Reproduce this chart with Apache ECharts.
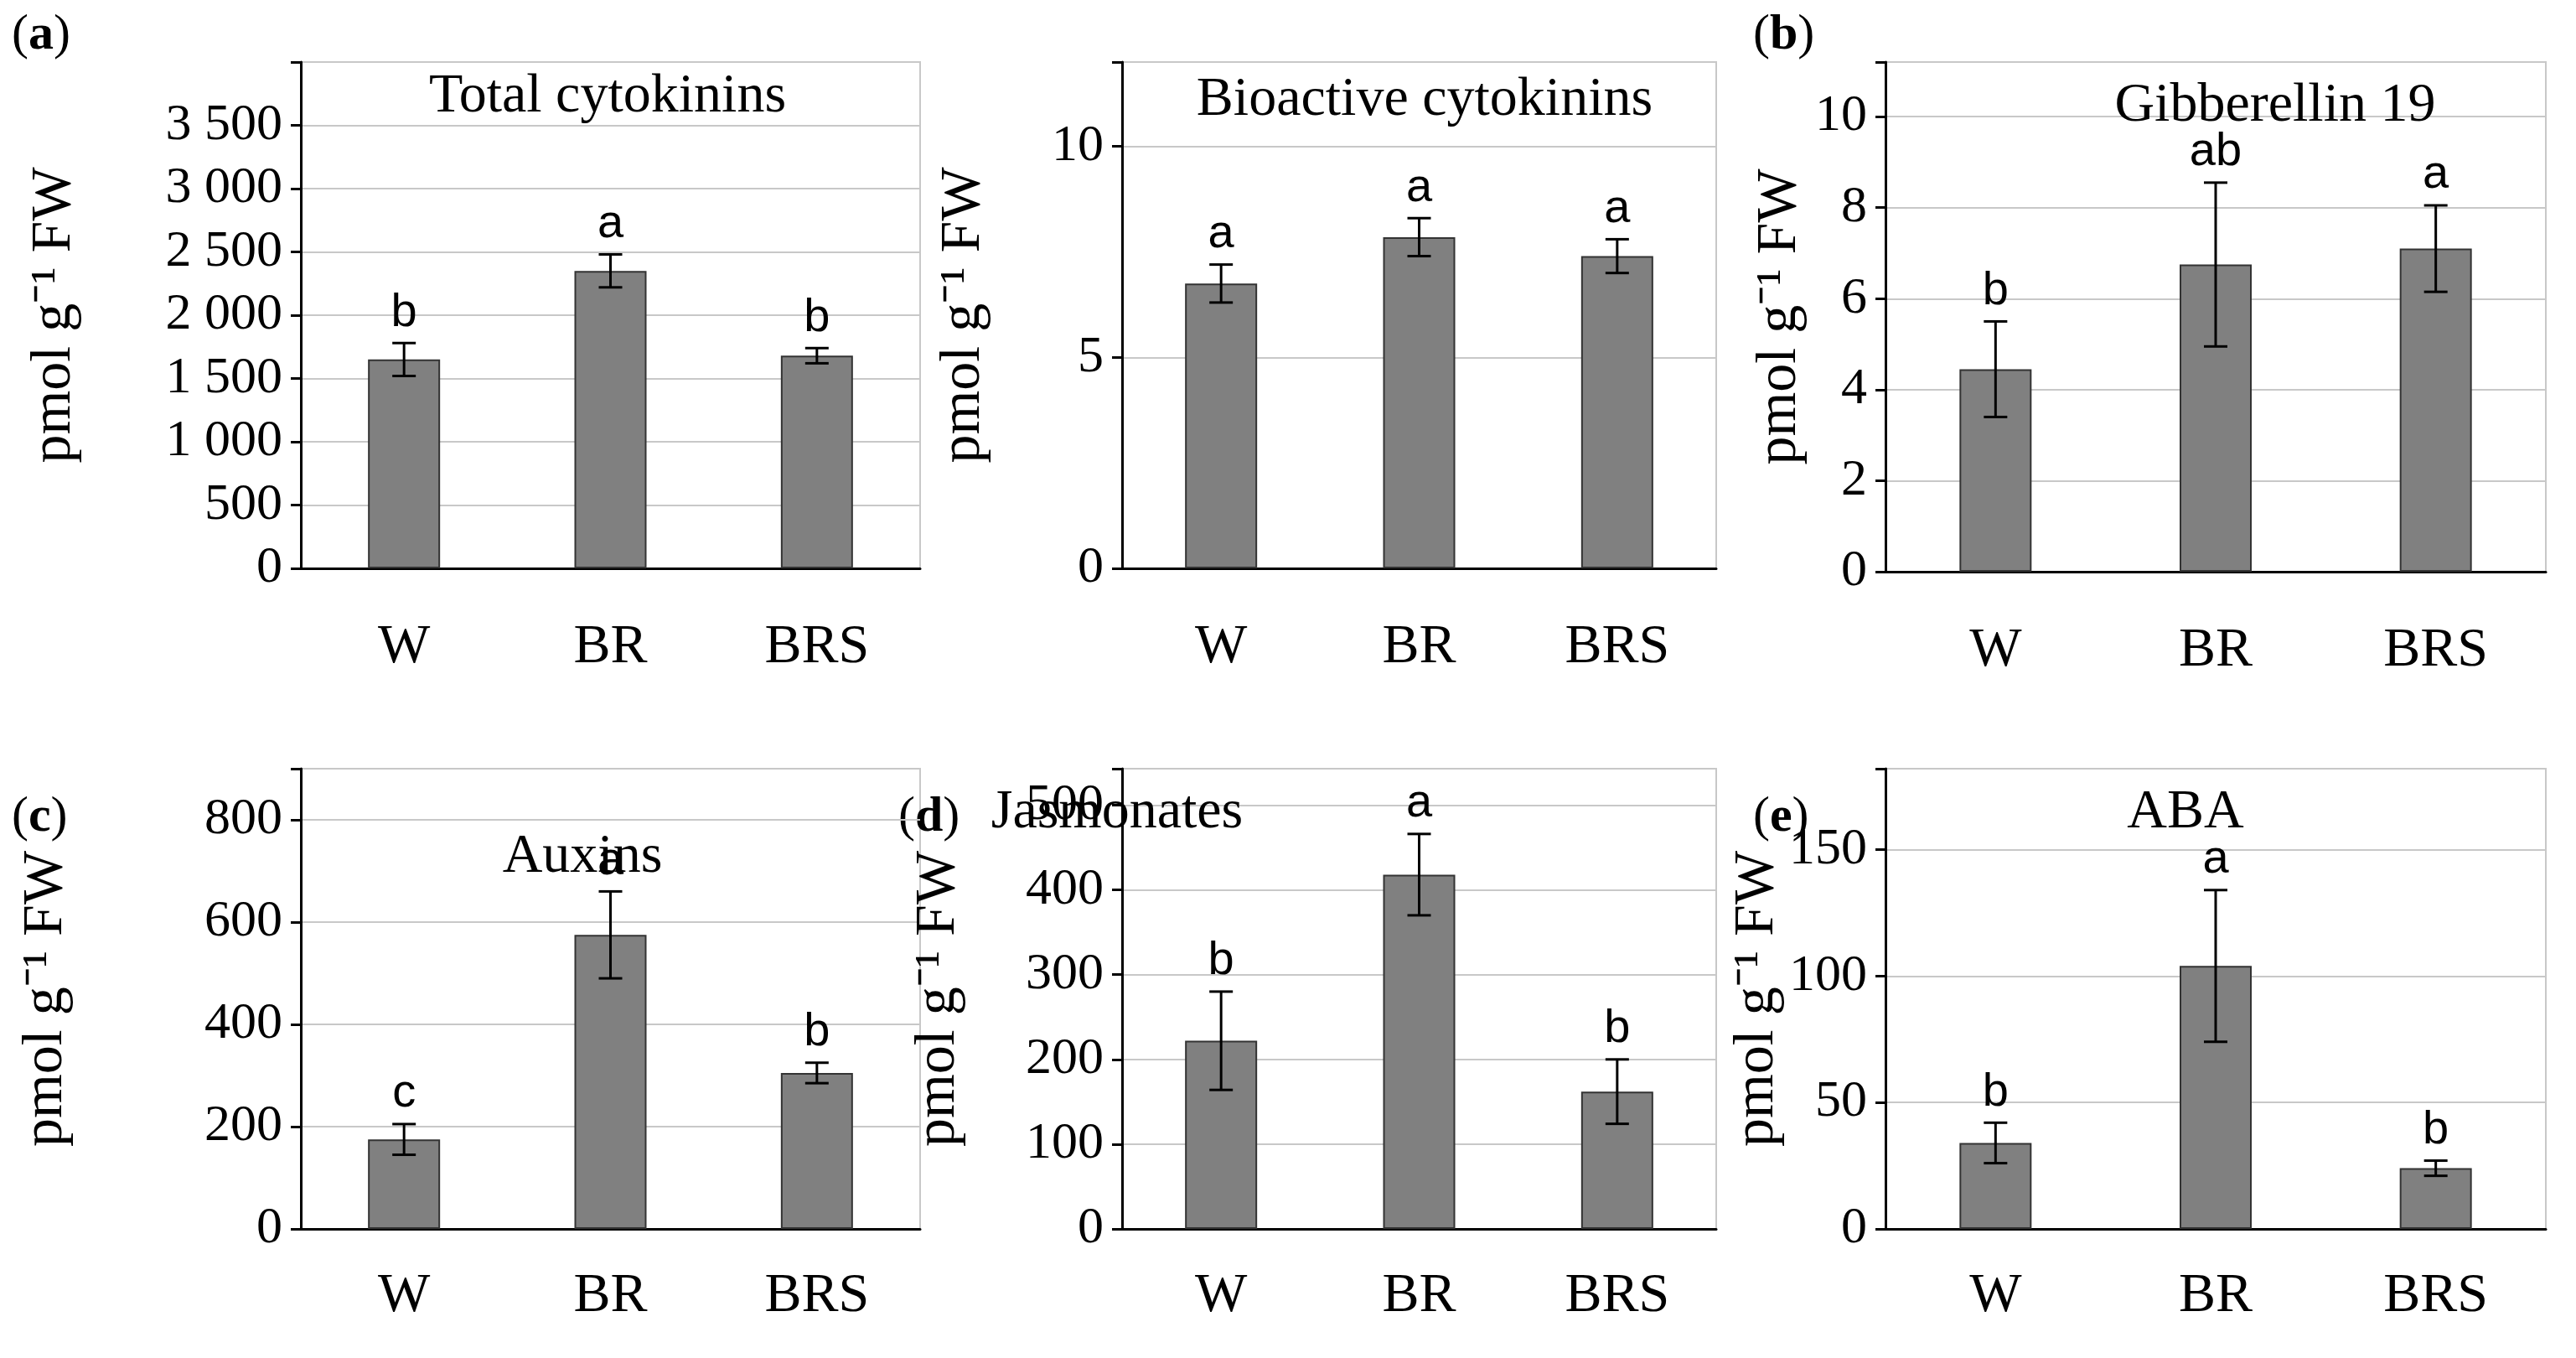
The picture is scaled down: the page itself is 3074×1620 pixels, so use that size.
<!DOCTYPE html>
<html lang="en">
<head>
<meta charset="UTF-8">
<title>Hormones</title>
<script src="https://cdn.jsdelivr.net/npm/echarts@6/dist/echarts.min.js"></script>
<style>html,body{margin:0;background:#fff}</style>
</head>
<body>
<div id="main" style="width:3074px;height:1620px;"></div>
<script>
const categories = ['W', 'BR', 'BRS']
const titles = ['Total cytokinins', 'Bioactive cytokinins', 'Gibberellin 19', 'Auxins', 'Jasmonates', 'ABA']
const means = [[1650, 2350, 1680], [6.75, 7.85, 7.4], [4.45, 6.75, 7.1], [175, 575, 305], [222, 418, 162], [34, 104, 24]]
const errors = [[130, 130, 60], [0.45, 0.45, 0.4], [1.05, 1.8, 0.95], [30, 85, 20], [58, 48, 38], [8, 30, 3]]
const letters = [['b', 'a', 'b'], ['a', 'a', 'a'], ['b', 'ab', 'a'], ['c', 'a', 'b'], ['b', 'a', 'b'], ['b', 'a', 'b']]
const yMax = [4000, 12, 11.2, 900, 543, 182]
const yStep = [500, 5, 2, 200, 100, 50]

// layout per panel (pixels)
const grids = [
  {left: 359, top: 74, width: 739, height: 604},
  {left: 1339, top: 74, width: 709, height: 604},
  {left: 2250, top: 74, width: 788, height: 608},
  {left: 359, top: 917, width: 739, height: 549},
  {left: 1339, top: 917, width: 709, height: 549},
  {left: 2250, top: 917, width: 788, height: 549}
]
const nameGaps = [260, 155, 92, 270, 185, 112]
const titlePos = [[725, 116], [1700, 120], [2715, 127], [695, 1023], [1333, 970], [2608, 970]]
const panelTags = [['a', 14, 42], ['b', 2092, 42], ['c', 14, 975], ['d', 1072, 975], ['e', 2092, 975]]

const serif = 'Liberation Serif'
const fmt = v => v >= 1000 ? Math.floor(v / 1000) + ' ' + String(v % 1000).padStart(3, '0') : String(v)

const option = {
  animation: false,
  grid: grids.map(g => Object.assign({show: true, borderColor: '#c8c8c8', borderWidth: 2}, g)),
  xAxis: grids.map((g, i) => ({
    gridIndex: i, type: 'category', data: categories,
    axisLine: {lineStyle: {color: '#000', width: 3}}, axisTick: {show: false},
    axisLabel: {color: '#000', fontFamily: serif, fontSize: 66, margin: i < 3 ? 62 : 48}
  })),
  yAxis: grids.map((g, i) => ({
    gridIndex: i, type: 'value', min: 0, max: yMax[i], interval: yStep[i],
    name: 'pmol g⁻¹ FW', nameLocation: 'middle', nameGap: nameGaps[i], nameRotate: 90,
    nameTextStyle: {color: '#000', fontFamily: serif, fontSize: 68},
    axisLine: {show: true, lineStyle: {color: '#000', width: 3}},
    axisTick: {show: true, length: 12, lineStyle: {color: '#000', width: 3}},
    axisLabel: {color: '#000', fontFamily: serif, fontSize: 62, margin: 22, formatter: v => v <= yMax[i] - 1e-9 && Math.abs(v / yStep[i] - Math.round(v / yStep[i])) < 1e-6 ? fmt(v) : ''},
    splitLine: {lineStyle: {color: '#c8c8c8', width: 2}}
  })),
  series: [],
  graphic: []
}

means.forEach((m, i) => {
  option.series.push({
    type: 'bar', xAxisIndex: i, yAxisIndex: i, data: m, barWidth: 86,
    itemStyle: {color: '#808080', borderColor: '#333', borderWidth: 2}
  })
  option.series.push({
    type: 'custom', xAxisIndex: i, yAxisIndex: i,
    data: m.map((v, j) => [j, v - errors[i][j], v + errors[i][j]]),
    renderItem: (params, api) => {
      const lo = api.coord([api.value(0), api.value(1)])
      const hi = api.coord([api.value(0), api.value(2)])
      const x = lo[0], w = 14
      const st = {stroke: '#000', lineWidth: 3}
      return {type: 'group', children: [
        {type: 'line', shape: {x1: x, y1: lo[1], x2: x, y2: hi[1]}, style: st},
        {type: 'line', shape: {x1: x - w, y1: lo[1], x2: x + w, y2: lo[1]}, style: st},
        {type: 'line', shape: {x1: x - w, y1: hi[1], x2: x + w, y2: hi[1]}, style: st},
        {type: 'text', x: x, y: hi[1] - 8, style: {text: letters[i][params.dataIndex], fill: '#000', font: '56px Liberation Sans', textAlign: 'center', textVerticalAlign: 'bottom'}}
      ]}
    },
    z: 5
  })
  option.graphic.push({type: 'text', x: titlePos[i][0], y: titlePos[i][1],
    style: {text: titles[i], fill: '#000', font: '66px Liberation Serif', textAlign: 'center', textVerticalAlign: 'middle'}, z: 10})
})

panelTags.forEach(t => {
  option.graphic.push({type: 'text', x: t[1], y: t[2],
    style: {text: '{p|(}{b|' + t[0] + '}{p|)}', rich: {p: {font: '60px Liberation Serif', fill: '#000'}, b: {font: 'bold 60px Liberation Serif', fill: '#000'}}, textVerticalAlign: 'middle'}})
})

const chart = echarts.init(document.getElementById('main'))
chart.setOption(option)
</script>
</body>
</html>
